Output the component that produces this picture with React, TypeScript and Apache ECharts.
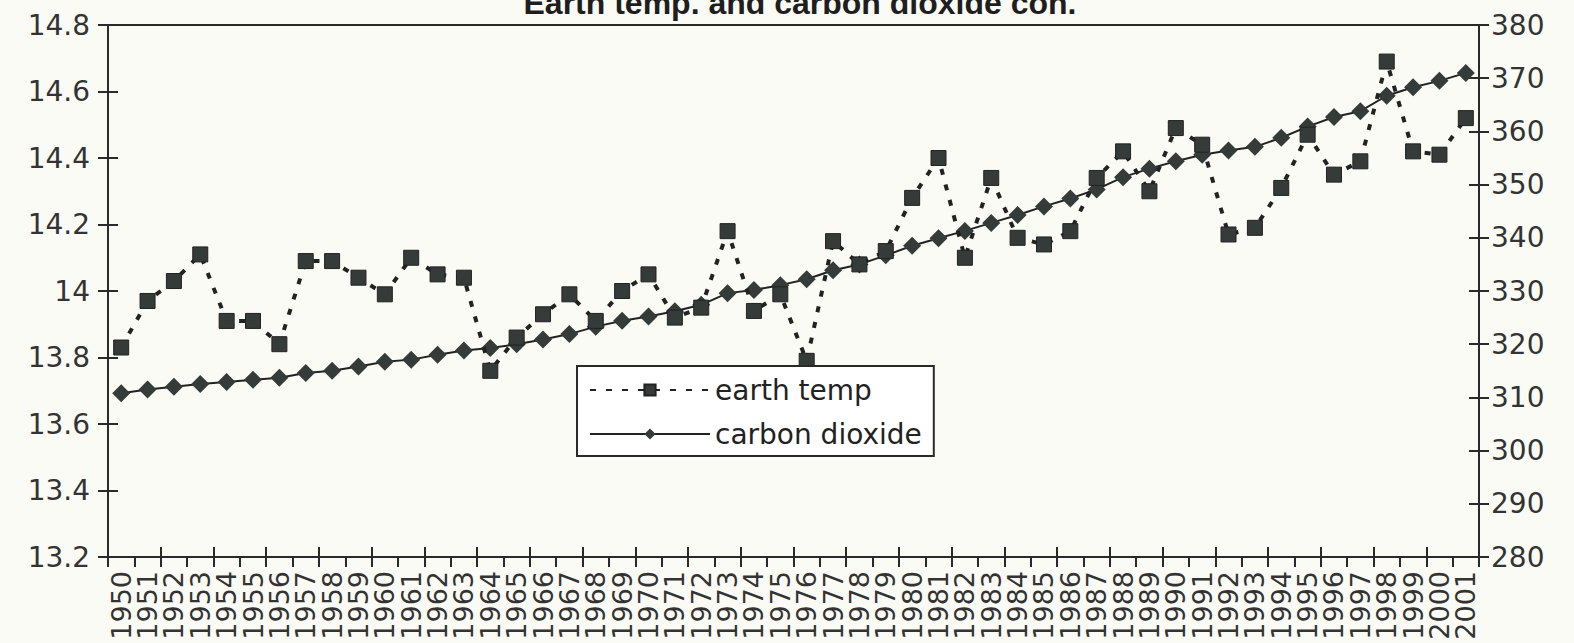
import React, { useEffect, useRef } from 'react';
import * as echarts from 'echarts';

const years: string[] = [
  '1950', '1951', '1952', '1953', '1954', '1955', '1956', '1957', '1958', '1959',
  '1960', '1961', '1962', '1963', '1964', '1965', '1966', '1967', '1968', '1969',
  '1970', '1971', '1972', '1973', '1974', '1975', '1976', '1977', '1978', '1979',
  '1980', '1981', '1982', '1983', '1984', '1985', '1986', '1987', '1988', '1989',
  '1990', '1991', '1992', '1993', '1994', '1995', '1996', '1997', '1998', '1999',
  '2000', '2001',
];

const earthTemp: number[] = [
  13.83, 13.97, 14.03, 14.11, 13.91, 13.91, 13.84, 14.09, 14.09, 14.04,
  13.99, 14.10, 14.05, 14.04, 13.76, 13.86, 13.93, 13.99, 13.91, 14.00,
  14.05, 13.92, 13.95, 14.18, 13.94, 13.99, 13.79, 14.15, 14.08, 14.12,
  14.28, 14.40, 14.10, 14.34, 14.16, 14.14, 14.18, 14.34, 14.42, 14.30,
  14.49, 14.44, 14.17, 14.19, 14.31, 14.47, 14.35, 14.39, 14.69, 14.42,
  14.41, 14.52,
];

const carbonDioxide: number[] = [
  310.8, 311.5, 312.0, 312.5, 312.9, 313.3, 313.7, 314.6, 315.0, 315.8,
  316.7, 317.1, 318.0, 318.8, 319.3, 320.0, 320.9, 321.9, 323.3, 324.4,
  325.2, 326.2, 327.4, 329.6, 330.2, 331.1, 332.2, 333.9, 335.0, 336.7,
  338.5, 339.9, 341.3, 342.8, 344.3, 345.9, 347.4, 349.1, 351.4, 353.0,
  354.4, 355.6, 356.4, 357.1, 358.8, 360.9, 362.7, 363.8, 366.7, 368.3,
  369.5, 371.0,
];

const titleText = 'Earth temp. and carbon dioxide con.';
const seriesNames = ['earth temp', 'carbon dioxide'];

export default function App() {
  const ref = useRef<HTMLDivElement>(null);

  useEffect(() => {
    if (!ref.current) return;
    const chart = echarts.init(ref.current, null, { renderer: 'svg' });
    const ink = '#2a2a2a';
    const font = 'DejaVu Sans';
    const tickStyle = { color: ink, width: 2 };
    const fmt1 = (v: number) => String(Math.round(v * 10) / 10);

    chart.setOption({
      animation: false,
      backgroundColor: '#fbfbf6',
      graphic: [
        {
          type: 'text',
          x: 800,
          y: 19,
          style: {
            text: titleText,
            fontSize: 32,
            fontWeight: 'bold',
            fontFamily: 'Liberation Sans',
            fill: '#1e1e1e',
            textAlign: 'center',
            textVerticalAlign: 'bottom',
          },
        },
      ],
      grid: {
        left: 108,
        right: 95,
        top: 25,
        bottom: 86,
        show: true,
        borderColor: ink,
        borderWidth: 2,
        backgroundColor: 'transparent',
      },
      legend: {
        orient: 'vertical',
        left: 577,
        top: 366,
        data: seriesNames,
        backgroundColor: '#ffffff',
        borderColor: ink,
        borderWidth: 2,
        borderRadius: 0,
        padding: [10, 12, 8, 12],
        itemWidth: 120,
        itemHeight: 14,
        itemGap: 16,
        textStyle: { fontSize: 28, fontFamily: font, color: '#222' },
      },
      xAxis: [
        {
          type: 'category',
          data: years,
          boundaryGap: true,
          axisLine: { lineStyle: tickStyle },
          axisTick: { show: true, length: 10, lineStyle: tickStyle },
          axisLabel: {
            interval: 0,
            rotate: 90,
            fontSize: 27,
            fontFamily: font,
            color: '#333',
            margin: 14,
          },
          splitLine: { show: false },
        },
        {
          type: 'category',
          data: years,
          position: 'bottom',
          boundaryGap: true,
          axisLine: { show: false },
          axisTick: { show: true, inside: true, length: 10, lineStyle: tickStyle },
          axisLabel: { show: false },
          splitLine: { show: false },
        },
      ],
      yAxis: [
        {
          type: 'value',
          position: 'left',
          min: 13.2,
          max: 14.8,
          interval: 0.2,
          axisLine: { show: true, lineStyle: tickStyle },
          axisTick: { show: true, length: 10, lineStyle: tickStyle },
          axisLabel: { fontSize: 28, fontFamily: font, color: '#333', margin: 18, formatter: fmt1 },
          splitLine: { show: false },
        },
        {
          type: 'value',
          position: 'right',
          min: 280,
          max: 380,
          interval: 10,
          axisLine: { show: true, lineStyle: tickStyle },
          axisTick: { show: true, length: 10, lineStyle: tickStyle },
          axisLabel: { fontSize: 28, fontFamily: font, color: '#333', margin: 12 },
          splitLine: { show: false },
        },
        {
          type: 'value',
          position: 'left',
          min: 13.2,
          max: 14.8,
          interval: 0.2,
          axisLine: { show: false },
          axisTick: { show: true, inside: true, length: 10, lineStyle: tickStyle },
          axisLabel: { show: false },
          splitLine: { show: false },
        },
        {
          type: 'value',
          position: 'right',
          min: 280,
          max: 380,
          interval: 10,
          axisLine: { show: false },
          axisTick: { show: true, inside: true, length: 10, lineStyle: tickStyle },
          axisLabel: { show: false },
          splitLine: { show: false },
        },
      ],
      series: [
        {
          name: seriesNames[0],
          type: 'line',
          xAxisIndex: 0,
          yAxisIndex: 0,
          data: earthTemp,
          symbol: 'rect',
          symbolSize: 15,
          z: 3,
          lineStyle: { color: '#222', width: 4, type: [6, 10] },
          itemStyle: { color: '#353b38', borderColor: '#222', borderWidth: 1 },
        },
        {
          name: seriesNames[1],
          type: 'line',
          xAxisIndex: 0,
          yAxisIndex: 1,
          data: carbonDioxide,
          symbol: 'diamond',
          symbolSize: 18,
          z: 2,
          lineStyle: { color: '#222', width: 2 },
          itemStyle: { color: '#353b38' },
        },
      ],
    });

    return () => chart.dispose();
  }, []);

  return (
    <div
      ref={ref}
      style={{ position: 'fixed', left: 0, top: 0, width: 1574, height: 643 }}
    />
  );
}
